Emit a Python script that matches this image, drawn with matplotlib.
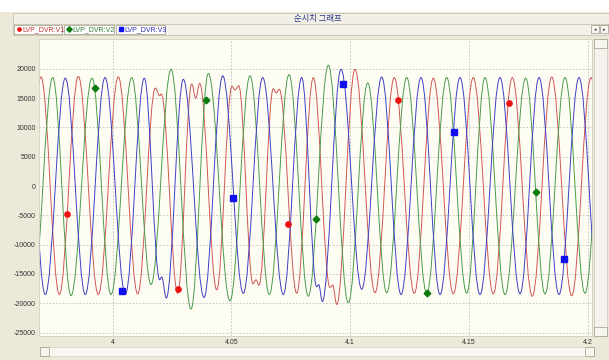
import matplotlib
matplotlib.use("Agg")
import matplotlib.pyplot as plt
import numpy as np
from matplotlib.lines import Line2D
from matplotlib.patches import PathPatch, Rectangle
from matplotlib.path import Path

# extrema of each phase voltage (time s, value)
V1_T = [3.96168, 3.96981, 3.97752, 3.98552, 3.99394, 4.00236, 4.01053, 4.01794,
        4.01979, 4.02046, 4.02737, 4.03326, 4.03495, 4.03663, 4.04379, 4.05023,
        4.05149, 4.05305, 4.05907, 4.06034, 4.06160, 4.06762, 4.06876, 4.07015,
        4.07747, 4.08446, 4.09149, 4.09263, 4.09432, 4.10202, 4.11044, 4.11857,
        4.12699, 4.13499, 4.14341, 4.15183, 4.16025, 4.16825, 4.17667, 4.18484,
        4.19326, 4.20139, 4.20968]
V1_V = [-18500, 18600, -18500, 18700, -18500, 18600, -18400, 16700,
        15400, 15700, -18300, 17400, 15000, 17500, -17700, 17000,
        16400, 17100, -16700, -16000, -16900, 16600, 15900, 16500,
        -18300, 18500, -17300, -16900, -20200, 19900, -18200, 18500,
        -18300, 18400, -18400, 18500, -18400, 18500, -18800, 18600,
        -18700, 18500, -18500]

V2_T = [3.96644, 3.97474, 3.98244, 3.99128, 3.99928, 4.00800, 4.01613, 4.02455,
        4.03297, 4.04025, 4.04939, 4.05781, 4.06594, 4.07423, 4.08236, 4.09078,
        4.09920, 4.10737, 4.11537, 4.12379, 4.13221, 4.14063, 4.14905, 4.15676,
        4.16518, 4.17389, 4.18202, 4.19044, 4.19886, 4.20716]
V2_V = [-18500, 18500, -18700, 18400, -18500, 18500, -16800, 19900,
        -21000, 19200, -19600, 18800, -18500, 19000, -18800, 20600,
        -19900, 17600, -18200, 18500, -18300, 18500, -18300, 18500,
        -18500, 18400, -18400, 18500, -18300, 18500]

V3_T = [3.96337, 3.97162, 3.98004, 3.98846, 3.99676, 4.00531, 4.01331, 4.01979,
        4.02063, 4.02257, 4.02973, 4.03844, 4.04632, 4.05499, 4.06316, 4.07183,
        4.07958, 4.08589, 4.08674, 4.08825, 4.09613, 4.10484, 4.11326, 4.12139,
        4.12981, 4.13781, 4.14623, 4.15465, 4.16307, 4.17150, 4.17950, 4.18792,
        4.19634, 4.20476]
V3_V = [18500, -18500, 18400, -18500, 18500, -18500, 18400, -16000,
        -15500, -19100, 18200, -19000, 18800, -18300, 18500, -18500,
        18500, -17200, -16800, -19700, 19900, -17600, 18600, -18500,
        18500, -18500, 18500, -18500, 18500, -18400, 18500, -18500,
        18500, -18500]

# series point markers
V1_MT = [3.9806, 4.0274, 4.0737, 4.1203, 4.1669]
V1_MV = [-4700, -17600, -6400, 14600, 14200]
V2_MT = [3.9927, 4.0392, 4.0855, 4.1323, 4.1784]
V2_MV = [16700, 14600, -5600, -18200, -1100]
V3_MT = [4.0041, 4.0507, 4.0971, 4.1435, 4.1900]
V3_MV = [-17900, -2000, 17400, 9300, -12500]

NAMES = ["LVP_DVR:V1", "LVP_DVR:V2", "LVP_DVR:V3"]
TITLE = "순시치 그래프"
XTICKS = [4, 4.05, 4.1, 4.15, 4.2]
XLABELS = ["4", "4.05", "4.1", "4.15", "4.2"]
YTICKS = [-25000, -20000, -15000, -10000, -5000, 0, 5000, 10000, 15000, 20000]

W, H = 609, 360
BG = "#ECE9D8"
LATIN = ["Liberation Sans", "DejaVu Sans"]


def wave_path(ts, vs, k=1 - 2 / np.pi):
    # smooth bezier through successive extrema (flat tangent at each one)
    verts, codes = [(ts[0], vs[0])], [Path.MOVETO]
    for t0, v0, t1, v1 in zip(ts[:-1], vs[:-1], ts[1:], vs[1:]):
        d = t1 - t0
        verts += [(t0 + k * d, v0), (t1 - k * d, v1), (t1, v1)]
        codes += [Path.CURVE4] * 3
    return Path(verts, codes)


def box(fig, x0, y0, x1, y1, fc, ec, lw=0.6, ls="-"):
    fig.add_artist(Rectangle((x0 / W, 1 - y1 / H), (x1 - x0) / W, (y1 - y0) / H,
                             transform=fig.transFigure, fc=fc, ec=ec, lw=lw, ls=ls))


def ftext(fig, x, y, s, **kw):
    fig.text(x / W, 1 - y / H, s, **kw)


fig = plt.figure(figsize=(W / 100, H / 100), dpi=100, facecolor=BG)

# window chrome
box(fig, 0, 0, W, 12, "white", "none", lw=0)
box(fig, 13, 13, W + 1, 24, "#F1EFE6", "#C9C5B2")
box(fig, 13, 24, W + 1, 34.5, "#F3F1E9", "#C9C5B2")
ftext(fig, 318, 18.7, TITLE, family=["Noto Sans CJK KR", "DejaVu Sans"],
      fontsize=6, color="#2B3A8C", ha="center", va="center")

colors = ["#D05656", "#4A9C4A", "#3E3EC4"]
mcolors = ["#EE1111", "#0A7A0A", "#1010EE"]
markers = ["o", "D", "s"]
tcolors = ["#C03030", "#2E7D2E", "#2A2AB0"]
bx = [(14, 62), (64, 114), (116, 165)]
for i in range(3):
    box(fig, bx[i][0], 25, bx[i][1], 33.5, "white", "#A9A796")
    fig.add_artist(Line2D([(bx[i][0] + 4.5) / W], [1 - 29.3 / H], marker=markers[i],
                          ms=2.8 if i else 2.4, color=mcolors[i], mec=mcolors[i],
                          transform=fig.transFigure))
    ftext(fig, bx[i][0] + 8, 29.5, NAMES[i], family=LATIN, fontsize=5,
          color=tcolors[i], ha="left", va="center")
for x0 in (591, 600):
    box(fig, x0, 25.5, x0 + 8, 33, "#F6F5EF", "#A9A796")
    ftext(fig, x0 + 4, 29.2, "▸" if x0 == 600 else "◂", fontsize=3.5,
          color="#333333", ha="center", va="center")

# scrollbars
box(fig, 593.5, 38.5, 607, 336, "#F3F2EC", "#D0CDC0")
box(fig, 594, 39, 606.5, 48, "#F6F5EF", "#A9A796")
box(fig, 594, 326.5, 606.5, 335.5, "#F6F5EF", "#A9A796")
box(fig, 40, 346.5, 594, 356, "#F8F7F2", "#B5B2A2", lw=0.5, ls=(0, (1, 1)))
box(fig, 40, 346.5, 49, 356, "#F6F5EF", "#A9A796")
box(fig, 585, 346.5, 594, 356, "#F6F5EF", "#A9A796")

ax = fig.add_axes([39.3 / W, 1 - 335.5 / H, (591.7 - 39.3) / W, (335.5 - 39) / H])
ax.set_facecolor("#FEFDF4")
ax.set_xlim(3.96909, 4.20168)
ax.set_ylim(-25500, 25080)
ax.set_xticks(XTICKS, XLABELS)
ax.set_yticks(YTICKS, [str(v) for v in YTICKS])
ax.tick_params(length=0, labelsize=5, colors="#333333", pad=2.5)
for lab in ax.get_xticklabels() + ax.get_yticklabels():
    lab.set_family(LATIN)
ax.grid(True, color="#BDBDBD", lw=0.6, ls=(0, (2, 2)))
ax.set_axisbelow(True)
for sp in ax.spines.values():
    sp.set_color("#D2CFC2")
    sp.set_linewidth(0.6)

for (ts, vs), c in zip([(V1_T, V1_V), (V2_T, V2_V), (V3_T, V3_V)], colors):
    ax.add_patch(PathPatch(wave_path(ts, vs), fill=False, ec=c, lw=0.7, zorder=2))

for (mt, mv), m, c in zip([(V1_MT, V1_MV), (V2_MT, V2_MV), (V3_MT, V3_MV)],
                          markers, mcolors):
    ax.plot(mt, mv, ls="none", marker=m, ms=3.8 if m != "D" else 3.4,
            color=c, mec=c, zorder=3)

fig.savefig("out.png", dpi=100, facecolor=BG)
